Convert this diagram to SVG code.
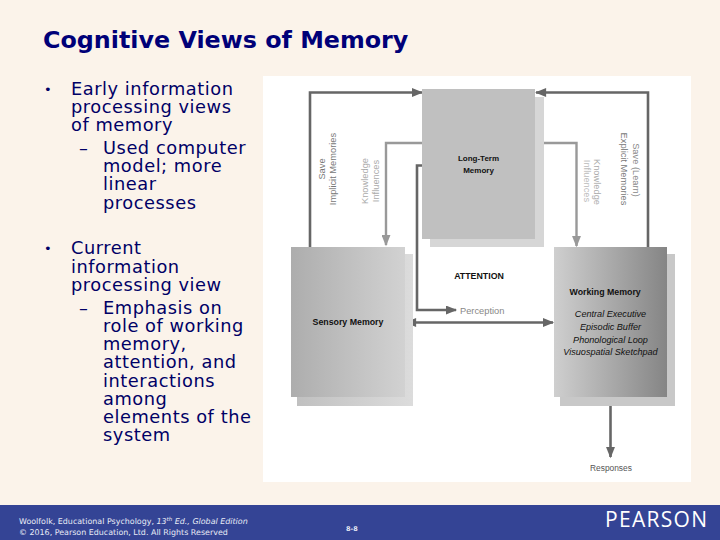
<svg xmlns="http://www.w3.org/2000/svg" width="720" height="540" viewBox="0 0 720 540">
<style>
.body{font-family:"DejaVu Sans",Verdana,sans-serif;font-size:17.8px;letter-spacing:.55px;fill:#000066}
.bul{font-size:13px}
.nl{font-family:"Liberation Sans",Arial,sans-serif;font-size:8.8px;fill:#111}
.it{font-style:italic;font-size:9.1px}
.lt{font-family:"Liberation Sans",Arial,sans-serif;font-size:9.3px}
.dark{fill:none;stroke:#666;stroke-width:2.6}
.mid{fill:none;stroke:#999;stroke-width:2.4}
.foot{font-family:"DejaVu Sans",Verdana,sans-serif;font-size:7.95px;fill:#e8ebf5}
</style>
<defs>
<linearGradient id="gS" x1="0" x2="1" y1="0" y2="0"><stop offset="0" stop-color="#adadad"/><stop offset="1" stop-color="#d2d2d2"/></linearGradient>
<linearGradient id="gW" x1="0" x2="1" y1="0" y2="0"><stop offset="0" stop-color="#cfcfcf"/><stop offset="1" stop-color="#858585"/></linearGradient>
<linearGradient id="gS2" x1="0" x2="1" y1="0" y2="0"><stop offset="0" stop-color="#c0c0c0"/><stop offset="1" stop-color="#dcdcdc"/></linearGradient>
<marker id="aD" viewBox="0 0 10 8" refX="9" refY="4" markerUnits="userSpaceOnUse" markerWidth="12" markerHeight="9" orient="auto-start-reverse"><path d="M0 0L10 4L0 8z" fill="#666"/></marker>
<marker id="aM" viewBox="0 0 10 8" refX="9" refY="4" markerUnits="userSpaceOnUse" markerWidth="12" markerHeight="9" orient="auto"><path d="M0 0L10 4L0 8z" fill="#999"/></marker>
</defs>
<rect width="720" height="540" fill="#fbf3ea"/>
<rect x="263" y="76" width="428" height="406" fill="#fff"/>

<g id="title"><text x="43" y="48" font-family="DejaVu Sans,Verdana,sans-serif" font-weight="700" font-size="23.8px" fill="#000078">Cognitive Views of Memory</text></g>
<g id="bullets" class="body">
<text class="bul" x="44" y="94">•</text>
<text x="71" y="95">Early information</text>
<text x="71" y="113">processing views</text>
<text x="71" y="131">of memory</text>
<text x="79" y="154">–</text>
<text x="103" y="154">Used computer</text>
<text x="103" y="172">model; more</text>
<text x="103" y="190">linear</text>
<text x="103" y="209">processes</text>
<text class="bul" x="44" y="253">•</text>
<text x="71" y="254">Current</text>
<text x="71" y="273">information</text>
<text x="71" y="291">processing view</text>
<text x="79" y="314">–</text>
<text x="103" y="314">Emphasis on</text>
<text x="103" y="332">role of working</text>
<text x="103" y="350">memory,</text>
<text x="103" y="368">attention, and</text>
<text x="103" y="387">interactions</text>
<text x="103" y="405">among</text>
<text x="103" y="423">elements of the</text>
<text x="103" y="441">system</text>
</g>

<g id="connectors">
<path class="dark" d="M310 247V92.500H422" marker-end="url(#aD)"/>
<path class="dark" d="M648 247V92.500H536" marker-end="url(#aD)"/>
<path class="mid" d="M423 143H386V245" marker-end="url(#aM)"/>
<path class="mid" d="M544 143H576.500V246" marker-end="url(#aM)"/>
<path class="dark" d="M423 165.500H417V310H456" marker-end="url(#aD)"/>
<path class="dark" d="M406 322.500H553" marker-start="url(#aD)" marker-end="url(#aD)"/>
<path class="dark" d="M610.500 404V457" marker-end="url(#aD)"/>
</g>

<g id="long-term-memory">
<rect x="430" y="97" width="114" height="150" fill="#d6d6d6"/>
<rect x="422" y="89" width="113" height="150" fill="#c0c0c0"/>
<text class="nl" font-weight="700" font-size="8px" style="font-size:8px" x="478.500" y="161" text-anchor="middle">Long-Term</text>
<text class="nl" font-weight="700" style="font-size:8px" x="478.500" y="173" text-anchor="middle">Memory</text>
</g>
<g id="sensory-memory">
<rect x="297" y="254" width="116" height="152" fill="url(#gS2)"/>
<rect x="291" y="247" width="114" height="150" fill="url(#gS)"/>
<text class="nl" font-weight="700" x="348" y="325" text-anchor="middle">Sensory Memory</text>
</g>
<g id="working-memory">
<rect x="560" y="254" width="115" height="152" fill="#c8c8c8"/>
<rect x="554" y="247" width="113" height="150" fill="url(#gW)"/>
<text class="nl" font-weight="700" x="569.500" y="295">Working Memory</text>
<text class="nl it" x="610.500" y="317" text-anchor="middle">Central Executive</text>
<text class="nl it" x="610.500" y="330" text-anchor="middle">Episodic Buffer</text>
<text class="nl it" x="610.500" y="343" text-anchor="middle">Phonological Loop</text>
<text class="nl it" x="610.500" y="355" text-anchor="middle">Visuospatial Sketchpad</text>
</g>

<g id="labels">
<text class="nl" font-weight="700" x="479" y="279" text-anchor="middle">ATTENTION</text>
<text class="lt" fill="#888" x="460" y="314">Perception</text>
<text class="lt" fill="#555" style="font-size:8.4px" x="590" y="471">Responses</text>
<text class="lt" fill="#777" text-anchor="middle" transform="translate(325,169) rotate(-90)">Save</text>
<text class="lt" fill="#777" text-anchor="middle" transform="translate(336,169) rotate(-90)">Implicit Memories</text>
<text class="lt" fill="#aaa" text-anchor="middle" transform="translate(368,181) rotate(-90)">Knowledge</text>
<text class="lt" fill="#aaa" text-anchor="middle" transform="translate(379,181) rotate(-90)">Influences</text>
<text class="lt" fill="#888" text-anchor="middle" transform="translate(633,170) rotate(90)">Save (Learn)</text>
<text class="lt" fill="#777" text-anchor="middle" transform="translate(621,169) rotate(90)">Explicit Memories</text>
<text class="lt" fill="#aaa" text-anchor="middle" transform="translate(594,182) rotate(90)">Knowledge</text>
<text class="lt" fill="#bbb" text-anchor="middle" transform="translate(584,181) rotate(90)">Influences</text>
</g>

<g id="footer">
<rect y="505" width="720" height="35" fill="#344495"/>
<text class="foot" x="19" y="524">Woolfolk, Educational Psychology, <tspan font-style="italic">13<tspan dy="-3" font-size="5.500px">th</tspan><tspan dy="3"> Ed., Global Edition</tspan></tspan></text>
<text class="foot" x="19" y="535">© 2016, Pearson Education, Ltd. All Rights Reserved</text>
<text class="foot" style="font-size:6.500px" font-weight="700" x="346" y="531">8-8</text>
<text x="605" y="527" font-family="Open Sans,Noto Sans,sans-serif" font-size="21px" letter-spacing="1.300" fill="#fff">PEARSON</text>
</g>
</svg>
